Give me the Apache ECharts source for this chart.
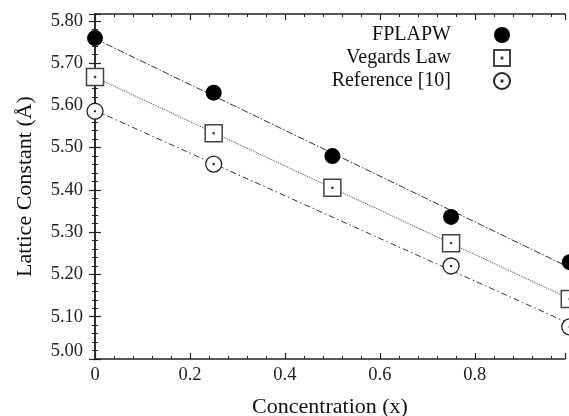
<!DOCTYPE html>
<html>
<head>
<meta charset="utf-8">
<script src="https://cdn.jsdelivr.net/npm/echarts@6/dist/echarts.min.js"></script>
<style>
  html, body { margin: 0; padding: 0; background: #fff; }
  #chart { width: 569px; height: 416px; }
</style>
</head>
<body>
<div id="chart"></div>
<script>
// concentration x and lattice constants (Angstrom)
var xFplapw = [0, 0.25, 0.5, 0.75, 1];
var yFplapw = [5.759, 5.63, 5.48, 5.336, 5.229];
var xVegard = [0, 0.25, 0.5, 0.75, 1];
var yVegard = [5.667, 5.534, 5.405, 5.274, 5.142];
var xRef = [0, 0.25, 0.75, 1];
var yRef = [5.586, 5.461, 5.22, 5.076];
var seriesNames = ['FPLAPW', 'Vegards Law', 'Reference [10]'];

var FONT = 'Liberation Serif';

function pairs(xs, ys) {
  var out = [];
  for (var i = 0; i < xs.length; i++) out.push([xs[i], ys[i]]);
  return out;
}

// least squares line through the points, drawn from x=0 to x=1
function fitLine(xs, ys) {
  var n = xs.length, mx = 0, my = 0;
  for (var i = 0; i < n; i++) { mx += xs[i]; my += ys[i]; }
  mx /= n; my /= n;
  var sxy = 0, sxx = 0;
  for (var j = 0; j < n; j++) {
    sxy += (xs[j] - mx) * (ys[j] - my);
    sxx += (xs[j] - mx) * (xs[j] - mx);
  }
  var b = sxy / sxx, a = my - b * mx;
  return [[0, a], [1, a + b]];
}

var rectDot = 'path://M0,0H20V20H0Z M9.5,9.5H10.5V10.5H9.5Z';
var circleDot = 'path://M10,0A10,10,0,1,1,10,20A10,10,0,1,1,10,0Z M9.5,9.5H10.5V10.5H9.5Z';

var axisCommon = {
  axisLine: { lineStyle: { color: '#222', width: 1.5 } },
  axisTick: { inside: true, length: 6, lineStyle: { color: '#222', width: 1.2 } },
  minorTick: { show: true, splitNumber: 5, length: 3, lineStyle: { color: '#222', width: 1 } },
  splitLine: { show: false },
  minorSplitLine: { show: false }
};

function xAxisDef(pos, showLabel) {
  return Object.assign({
    type: 'value',
    position: pos,
    min: 0,
    max: 0.99,
    interval: 0.2,
    name: showLabel ? 'Concentration (x)' : '',
    nameLocation: 'middle',
    nameGap: 37,
    nameTextStyle: { fontFamily: FONT, fontSize: 22, color: '#111' },
    axisLabel: {
      show: showLabel,
      showMaxLabel: false,
      margin: 7,
      fontFamily: FONT,
      fontSize: 18.5,
      color: '#222',
      formatter: function (v) { return v === 0 ? '0' : v.toFixed(1); }
    }
  }, axisCommon);
}

function yAxisDef(pos, showLabel) {
  return Object.assign({
    type: 'value',
    position: pos,
    min: 5.0,
    max: 5.816,
    interval: 0.1,
    name: showLabel ? 'Lattice Constant (Å)' : '',
    nameLocation: 'middle',
    nameGap: 59,
    nameTextStyle: { fontFamily: FONT, fontSize: 22, color: '#111' },
    axisLabel: {
      show: showLabel,
      showMaxLabel: false,
      margin: 12,
      fontFamily: FONT,
      fontSize: 18.5,
      color: '#222',
      formatter: function (v) {
        var s = v.toFixed(2);
        return v < 5.001 ? '{low|' + s + '}' : s;
      },
      rich: {
        low: { fontFamily: FONT, fontSize: 18.5, color: '#222', padding: [0, 0, 16, 0] }
      }
    }
  }, axisCommon);
}

var chart = echarts.init(document.getElementById('chart'));

var option = {
  backgroundColor: '#ffffff',
  animation: false,
  grid: { left: 95, right: 4, top: 14, bottom: 57, outerBoundsMode: 'none' },
  legend: {
    data: seriesNames,
    orient: 'vertical',
    align: 'right',
    right: 53,
    top: 18.5,
    itemGap: 0,
    itemWidth: 16,
    itemHeight: 16,
    textStyle: {
      fontFamily: FONT,
      fontSize: 20,
      color: '#111',
      lineHeight: 23,
      padding: [0, 38, 0, 0]
    }
  },
  xAxis: [xAxisDef('bottom', true), xAxisDef('top', false)],
  yAxis: [yAxisDef('left', true), yAxisDef('right', false)],
  series: [
    {
      type: 'line',
      data: fitLine(xFplapw, yFplapw),
      symbol: 'none',
      silent: true,
      clip: false,
      lineStyle: { color: '#333', width: 1, type: [7, 2, 1.5, 2] },
      z: 1
    },
    {
      type: 'line',
      data: fitLine(xVegard, yVegard),
      symbol: 'none',
      silent: true,
      clip: false,
      lineStyle: { color: '#444', width: 1, type: [1, 1] },
      z: 1
    },
    {
      type: 'line',
      data: fitLine(xRef, yRef),
      symbol: 'none',
      silent: true,
      clip: false,
      lineStyle: { color: '#333', width: 1, type: [6, 3, 1.5, 3] },
      z: 1
    },
    {
      name: seriesNames[0],
      type: 'scatter',
      data: pairs(xFplapw, yFplapw),
      symbol: 'circle',
      symbolSize: 16,
      clip: false,
      itemStyle: { color: '#000', opacity: 1 },
      z: 3
    },
    {
      name: seriesNames[1],
      type: 'scatter',
      data: pairs(xVegard, yVegard),
      symbol: rectDot,
      symbolSize: 17,
      clip: false,
      itemStyle: { color: '#fff', borderColor: '#444', borderWidth: 1.5, opacity: 1 },
      z: 3
    },
    {
      name: seriesNames[2],
      type: 'scatter',
      data: pairs(xRef, yRef),
      symbol: circleDot,
      symbolSize: 16,
      clip: false,
      itemStyle: { color: '#fff', borderColor: '#222', borderWidth: 1.3, opacity: 1 },
      z: 3
    }
  ]
};

chart.setOption(option);
</script>
</body>
</html>
